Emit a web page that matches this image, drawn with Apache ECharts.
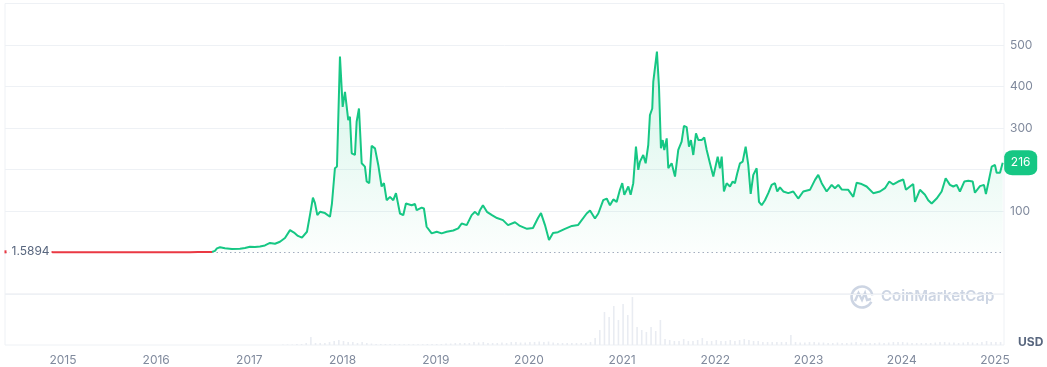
<!DOCTYPE html>
<html>
<head>
<meta charset="utf-8">
<script src="https://cdn.jsdelivr.net/npm/echarts@6/dist/echarts.min.js"></script>
<style>
  html, body { margin: 0; padding: 0; background: #fff; }
  #chart { width: 1047px; height: 367px; }
</style>
</head>
<body>
<div id="chart"></div>
<script>
// ---- Data ----
// Time in decimal years
const axisStartYear = 2014.378;
const axisEndYear = 2025.097;
const yearTicks = [2015, 2016, 2017, 2018, 2019, 2020, 2021, 2022, 2023, 2024, 2025];
const priceTicks = [100, 200, 300, 400, 500];
const startPrice = 1.5894;

const priceTimes = [
  2014.861, 2014.893, 2014.968, 2015.075, 2015.182, 2015.290, 2015.397, 2015.504, 2015.612, 2015.719,
  2015.826, 2015.933, 2016.041, 2016.148, 2016.255, 2016.363, 2016.449, 2016.524, 2016.599,
  2016.631, 2016.652, 2016.685, 2016.738, 2016.813, 2016.899, 2016.953, 2017.006, 2017.060, 2017.114,
  2017.167, 2017.221, 2017.275, 2017.328, 2017.382, 2017.436, 2017.479, 2017.521, 2017.564, 2017.618,
  2017.650, 2017.682, 2017.704, 2017.729, 2017.758, 2017.811, 2017.865, 2017.886, 2017.918, 2017.940,
  2017.972, 2018.001, 2018.026, 2018.061, 2018.079, 2018.098, 2018.133, 2018.151, 2018.176, 2018.205,
  2018.240, 2018.259, 2018.286, 2018.312, 2018.348, 2018.383, 2018.419, 2018.444, 2018.473, 2018.509,
  2018.544, 2018.573, 2018.616, 2018.651, 2018.680, 2018.741, 2018.777, 2018.795, 2018.849, 2018.873,
  2018.902, 2018.956, 2019.010, 2019.063, 2019.117, 2019.188, 2019.241, 2019.278, 2019.332, 2019.385,
  2019.421, 2019.456, 2019.474, 2019.506, 2019.549, 2019.603, 2019.657, 2019.721, 2019.775, 2019.850,
  2019.903, 2019.979, 2020.043, 2020.097, 2020.129, 2020.172, 2020.215, 2020.258, 2020.311, 2020.386,
  2020.461, 2020.526, 2020.547, 2020.619, 2020.655, 2020.708, 2020.744, 2020.797, 2020.834, 2020.869,
  2020.905, 2020.941, 2020.976, 2021.001, 2021.023, 2021.066, 2021.091, 2021.119, 2021.148, 2021.173,
  2021.191, 2021.226, 2021.252, 2021.280, 2021.298, 2021.323, 2021.334, 2021.352, 2021.373, 2021.395,
  2021.416, 2021.435, 2021.452, 2021.478, 2021.495, 2021.531, 2021.567, 2021.602, 2021.638, 2021.663,
  2021.692, 2021.717, 2021.738, 2021.763, 2021.792, 2021.817, 2021.853, 2021.881, 2021.907, 2021.942,
  2021.978, 2022.025, 2022.049, 2022.068, 2022.092, 2022.121, 2022.157, 2022.186, 2022.210, 2022.235,
  2022.264, 2022.293, 2022.325, 2022.353, 2022.379, 2022.407, 2022.425, 2022.443, 2022.468, 2022.497,
  2022.532, 2022.568, 2022.604, 2022.639, 2022.664, 2022.693, 2022.729, 2022.782, 2022.836, 2022.889,
  2022.943, 2023.015, 2023.069, 2023.104, 2023.141, 2023.194, 2023.248, 2023.283, 2023.319, 2023.355,
  2023.426, 2023.480, 2023.516, 2023.570, 2023.623, 2023.694, 2023.766, 2023.820, 2023.866, 2023.909,
  2023.962, 2024.016, 2024.045, 2024.088, 2024.123, 2024.142, 2024.195, 2024.249, 2024.284, 2024.321,
  2024.374, 2024.428, 2024.471, 2024.517, 2024.553, 2024.589, 2024.624, 2024.671, 2024.714, 2024.761,
  2024.785, 2024.839, 2024.882, 2024.903, 2024.928, 2024.965, 2025.000, 2025.018, 2025.054, 2025.083
];

const prices = [
  1.5894, 0.6, 0.45, 0.40, 0.50, 0.55, 0.80, 0.60, 0.48, 0.52,
  0.50, 0.60, 0.55, 0.50, 0.65, 0.90, 1.20, 1.30, 1.45,
  4, 10, 12.5, 10, 8.5, 9, 11, 14, 13, 14.5,
  17, 23, 21, 26, 35, 54, 48, 40, 36, 50,
  90, 132, 119, 90, 98, 95, 86, 118, 203, 207,
  472, 351, 387, 319, 327, 239, 235, 315, 347, 215,
  207, 171, 167, 257, 251, 211, 159, 167, 126, 134,
  126, 143, 94, 90, 118, 114, 117, 102, 108, 106,
  62, 46, 50, 46, 50, 53, 58, 70, 66, 90,
  98, 90, 102, 114, 98, 90, 83, 78, 66, 73,
  64, 57, 59, 83, 95, 66, 30, 47, 49, 57,
  64, 66, 70, 94, 101, 82, 94, 126, 130, 114,
  128, 122, 151, 167, 139, 159, 139, 167, 255, 199,
  219, 235, 215, 259, 331, 347, 412, 416, 484, 400,
  251, 271, 247, 275, 203, 215, 183, 247, 267, 305,
  302, 255, 271, 235, 287, 271, 271, 277, 247, 215,
  183, 231, 203, 231, 147, 167, 159, 171, 167, 191,
  215, 219, 255, 211, 141, 187, 183, 203, 122, 114,
  126, 143, 163, 167, 147, 157, 147, 143, 147, 130,
  147, 151, 175, 187, 167, 147, 163, 155, 163, 152,
  151, 134, 168, 165, 159, 143, 147, 155, 171, 164,
  171, 176, 151, 159, 165, 122, 151, 139, 126, 118,
  130, 147, 179, 163, 159, 163, 147, 171, 173, 171,
  144, 160, 163, 141, 167, 207, 211, 192, 192, 216
];

// Volume (USD millions), sampled every 0.05 year from volStartYear
const volStartYear = 2017.36;
const volStepYears = 0.05;
const volumes = [
  15, 15, 15, 30, 30, 60, 240, 60, 60, 60,
  90, 120, 150, 120, 90, 90, 60, 90, 60, 45,
  30, 30, 30, 30, 30, 24, 24, 24, 24, 24,
  24, 30, 30, 30, 30, 45, 45, 60, 60, 60,
  60, 90, 75, 90, 60, 60, 60, 75, 60, 90,
  90, 75, 75, 90, 90, 105, 90, 105, 75, 60,
  60, 60, 60, 60, 60, 60, 90, 210, 450, 990,
  840, 1170, 750, 1230, 900, 1440, 540, 450, 390, 540,
  420, 750, 180, 150, 120, 120, 180, 120, 120, 150,
  210, 120, 120, 150, 120, 120, 150, 120, 150, 180,
  150, 120, 120, 90, 90, 90, 90, 90, 90, 300,
  90, 75, 75, 90, 90, 75, 75, 60, 60, 75,
  60, 60, 75, 90, 60, 60, 60, 60, 75, 60,
  75, 90, 90, 90, 75, 60, 60, 60, 60, 60,
  75, 90, 90, 75, 75, 60, 75, 90, 75, 60,
  90, 120, 90, 90, 90
];

// ---- Build ----
const priceData = priceTimes.map((t, i) => [t, prices[i]]);
// the line is red while it stays below the start price, green afterwards
let firstAbove = prices.findIndex((p, i) => i > 0 && p > startPrice);
const redData = priceData.slice(0, firstAbove);
const greenData = priceData.slice(firstAbove - 1);
const volData = volumes.map((v, i) => [volStartYear + volStepYears * i, v]);
const lastPoint = priceData[priceData.length - 1];

const GREEN = '#16c784';
const RED = '#ea3943';
const GRIDC = '#eef1f5';
const FONT = 'Inter, "Noto Sans", sans-serif';

const chart = echarts.init(document.getElementById('chart'), null, { renderer: 'canvas' });

chart.setOption({
  animation: false,
  backgroundColor: '#fff',
  textStyle: { fontFamily: FONT },
  grid: [
    { left: 5, right: 43, top: 3.5, height: 290.5, show: true, borderColor: GRIDC, borderWidth: 1, backgroundColor: 'transparent' },
    { left: 5, right: 43, top: 294, height: 51, show: true, borderColor: GRIDC, borderWidth: 1, backgroundColor: 'transparent' }
  ],
  xAxis: [
    { type: 'value', gridIndex: 0, min: axisStartYear, max: axisEndYear, show: false },
    {
      type: 'value', gridIndex: 1, min: axisStartYear, max: axisEndYear,
      axisLine: { show: false }, axisTick: { show: false }, splitLine: { show: false },
      axisLabel: {
        customValues: yearTicks,
        formatter: v => String(Math.round(v)),
        color: '#808a9d', fontSize: 12, margin: 9, fontFamily: FONT
      }
    }
  ],
  yAxis: [
    {
      type: 'value', gridIndex: 0, position: 'right', min: -100, max: 600, interval: 100,
      axisLine: { show: false }, axisTick: { show: false },
      axisLabel: {
        color: '#808a9d', fontSize: 12, margin: 6, fontFamily: FONT,
        formatter: v => (priceTicks.indexOf(v) >= 0 ? String(v) : '')
      },
      splitLine: {
        show: true,
        lineStyle: { color: [GRIDC, 'rgba(0,0,0,0)', GRIDC, GRIDC, GRIDC, GRIDC, GRIDC, GRIDC], width: 1 }
      }
    },
    { type: 'value', gridIndex: 1, min: 0, max: 1530, show: false }
  ],
  series: [
    {
      type: 'line', xAxisIndex: 0, yAxisIndex: 0, data: greenData,
      showSymbol: false, symbol: 'none', z: 3,
      lineStyle: { width: 2, color: GREEN },
      itemStyle: { color: GREEN },
      areaStyle: {
        color: new echarts.graphic.LinearGradient(0, 0, 0, 1, [
          { offset: 0, color: 'rgba(22,199,132,0.26)' },
          { offset: 1, color: 'rgba(22,199,132,0.02)' }
        ])
      },
      markLine: {
        silent: true, symbol: 'none', z: 2,
        label: { show: false },
        lineStyle: { color: '#a4adbf', type: [1.5, 3], width: 1 },
        data: [{ yAxis: startPrice }]
      },
      markPoint: {
        silent: true, z: 10,
        data: [
          {
            coord: [axisStartYear, startPrice],
            symbol: 'rect', symbolSize: [2, 3], symbolOffset: [0.5, 0],
            itemStyle: { color: RED },
            label: {
              show: true, position: 'right', distance: 3,
              formatter: String(startPrice),
              color: '#58667e', fontSize: 12, fontFamily: FONT,
              backgroundColor: '#fff', padding: [1, 2]
            }
          },
          {
            coord: lastPoint,
            symbol: 'roundRect', symbolSize: [33, 25], symbolOffset: [18, 0],
            itemStyle: { color: GREEN },
            label: {
              show: true, position: 'inside',
              formatter: String(lastPoint[1]),
              color: '#fff', fontSize: 12, fontFamily: FONT
            }
          }
        ]
      }
    },
    {
      type: 'line', xAxisIndex: 0, yAxisIndex: 0, data: redData,
      showSymbol: false, symbol: 'none', z: 4,
      lineStyle: { width: 2, color: RED },
      itemStyle: { color: RED }
    },
    {
      type: 'bar', xAxisIndex: 1, yAxisIndex: 1, data: volData,
      barWidth: 1.6, itemStyle: { color: '#e9ecf2' }, silent: true
    }
  ],
  graphic: [
    {
      type: 'text', left: 1018, top: 336,
      style: { text: 'USD', fill: '#58667e', font: 'bold 12px ' + FONT }
    },
    {
      type: 'group', left: 849, top: 284, silent: true,
      children: [
        { type: 'arc', shape: { cx: 12, cy: 12, r: 10.5, startAngle: Math.PI * 0.15, endAngle: Math.PI * 1.95 },
          style: { stroke: '#cdd5e3', lineWidth: 2.5, fill: 'none' } },
        { type: 'polyline', shape: { points: [[5, 16], [8.5, 8], [12, 15], [15, 8], [17, 15], [21, 14]] },
          style: { stroke: '#cdd5e3', lineWidth: 2.4, fill: 'none' } },
        { type: 'text', x: 31, y: 4,
          style: { text: 'CoinMarketCap', fill: '#cdd5e3', font: '600 15px ' + FONT } }
      ]
    }
  ]
});
</script>
</body>
</html>
